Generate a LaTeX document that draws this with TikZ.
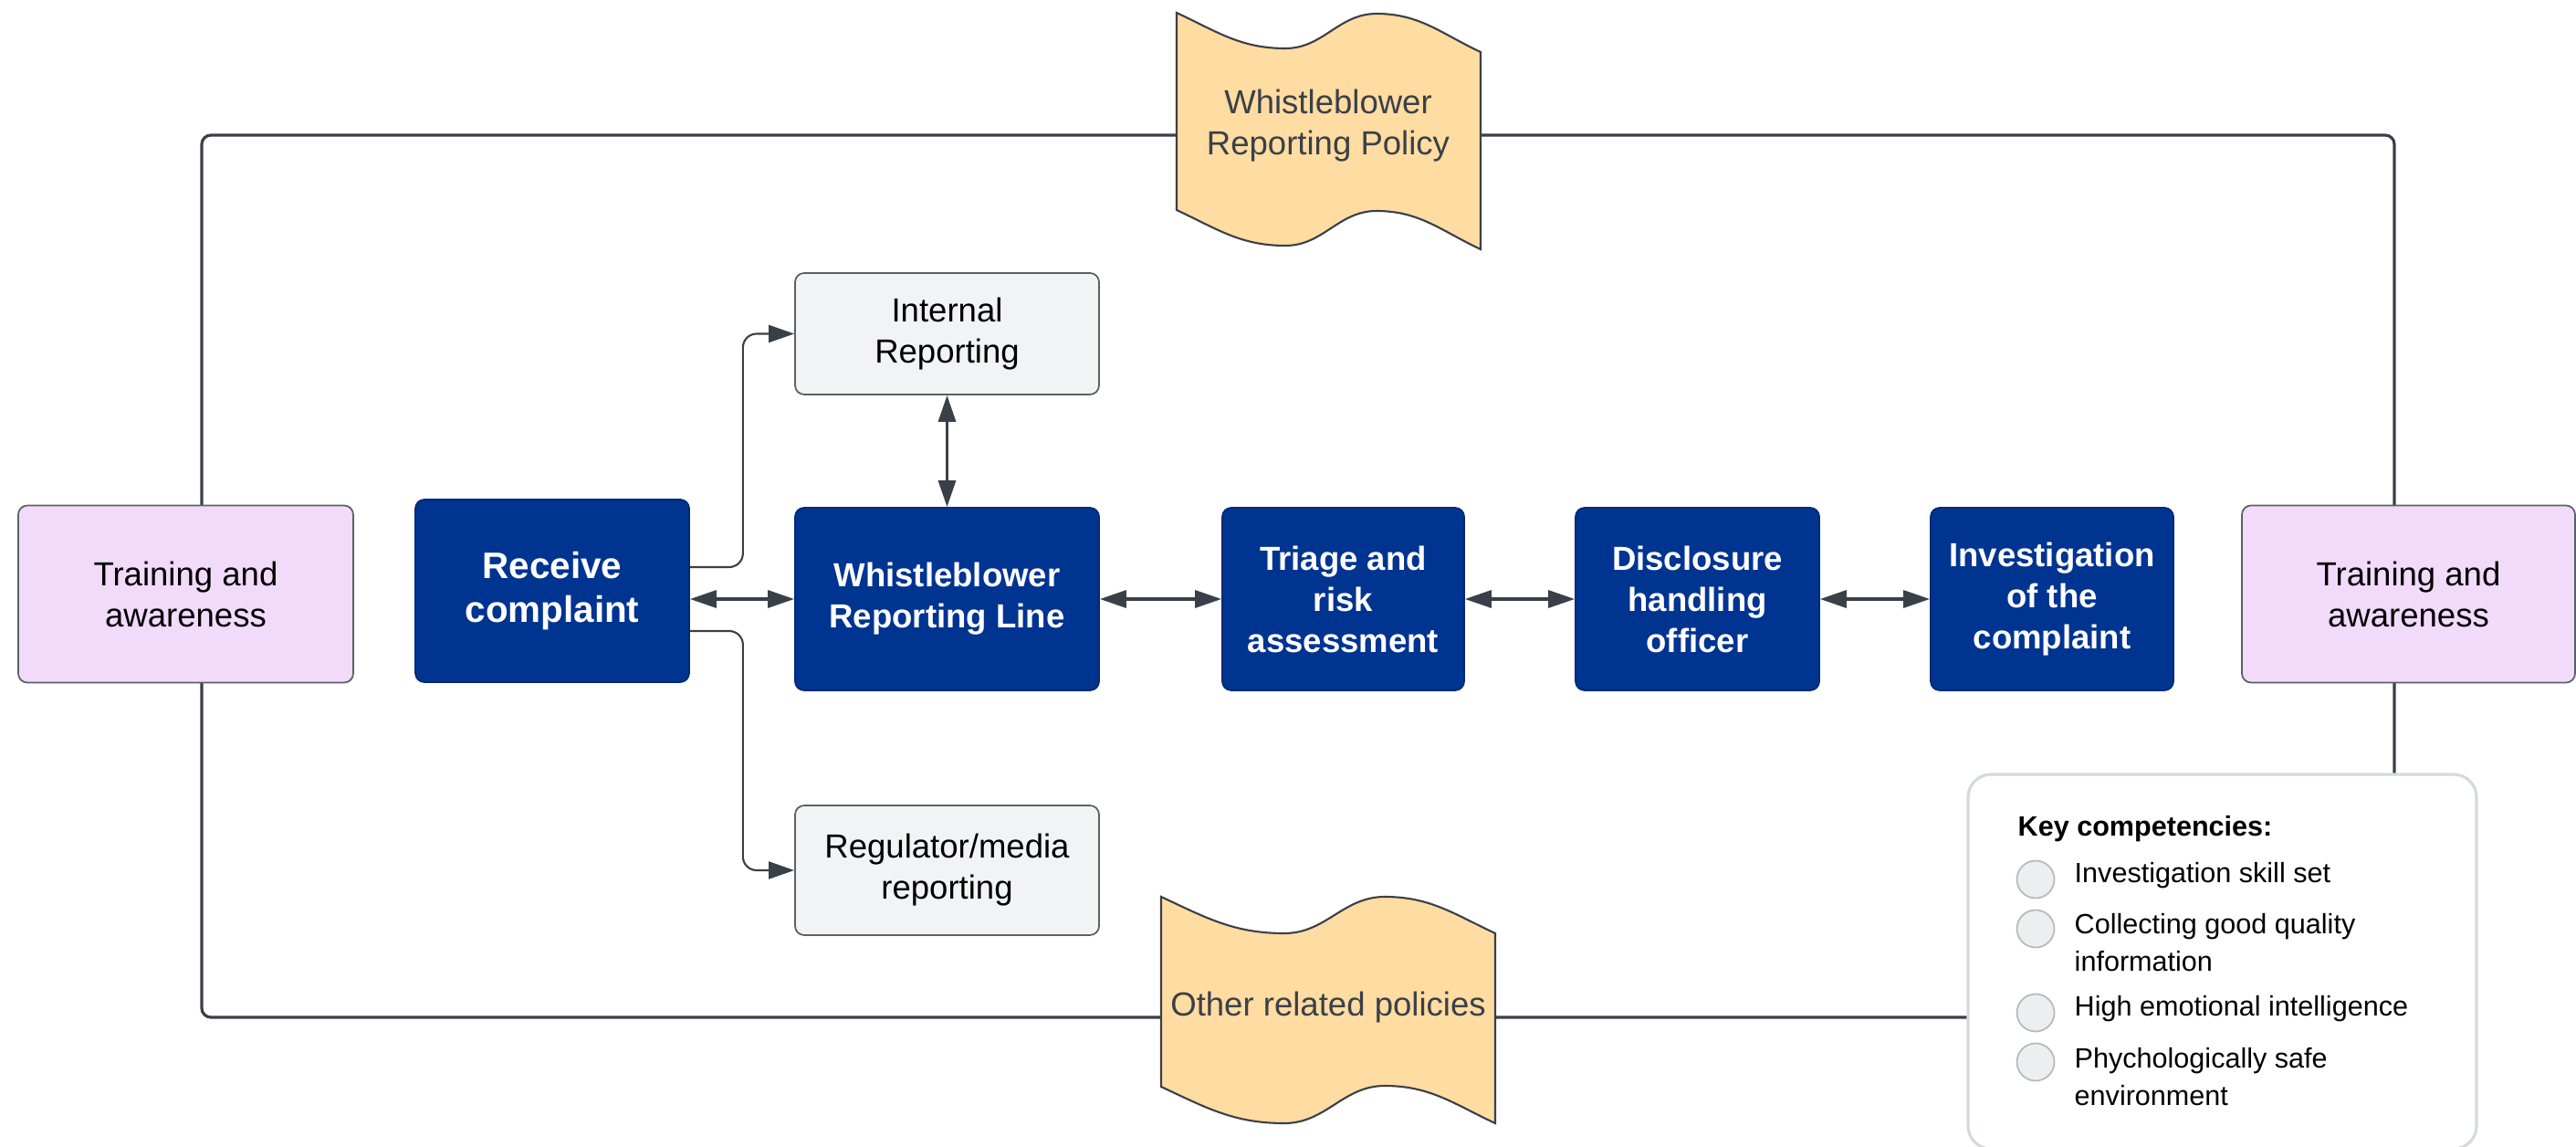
\documentclass[tikz,border=0pt]{standalone}
\usepackage{fontspec}
\setmainfont{Liberation Sans}
\usetikzlibrary{arrows.meta}

\definecolor{navy}{RGB}{0,52,145}
\definecolor{lilac}{RGB}{242,218,250}
\definecolor{paper}{RGB}{242,243,245}
\definecolor{sand}{RGB}{255,220,162}
\definecolor{ink}{RGB}{58,64,72}
\definecolor{rim}{RGB}{92,96,102}
\definecolor{pale}{RGB}{214,217,221}
\definecolor{dotfill}{RGB}{237,238,240}
\definecolor{dotrim}{RGB}{182,185,189}

\begin{document}
\begin{tikzpicture}[
    frame/.style={draw=ink,line width=0.9pt,rounded corners=1mm},
    banner/.style={fill=sand,draw=ink,line width=0.6pt},
    link/.style={draw=ink,line width=0.6pt,rounded corners=1.5mm,-{Triangle[length=2.8mm,width=1.9mm]}},
    both/.style={draw=ink,line width=0.9pt,{Triangle[length=2.9mm,width=1.9mm]}-{Triangle[length=2.9mm,width=1.9mm]}}]

  \useasboundingbox (0,0) rectangle (28.22,12.55);

  \draw[frame] (2.21,1.41) rectangle (26.23,11.07);

  \filldraw[banner] (12.89,12.41) to[out=-25,in=180] (14.08,12.02) to[out=0,in=180] (15.08,12.40)
    to[out=0,in=155] (16.22,11.98) -- (16.22,9.82) to[out=155,in=0] (15.08,10.24)
    to[out=180,in=0] (14.08,9.86) to[out=180,in=-25] (12.89,10.25) -- cycle;
  \filldraw[banner] (12.72,2.73) to[out=-25,in=180] (14.07,2.33) to[out=0,in=180] (15.17,2.73)
    to[out=0,in=155] (16.38,2.33) -- (16.38,0.25) to[out=155,in=0] (15.17,0.66)
    to[out=180,in=0] (14.07,0.25) to[out=180,in=-25] (12.72,0.65) -- cycle;

  \begin{scope}[every node/.style={align=center,text=ink,font=\fontsize{10.4}{12.8}\selectfont}]
    \node (policytop) at (14.55,11.17) {Whistleblower\\Reporting Policy};
    \node (policybot) at (14.55,1.52)  {Other related policies};
  \end{scope}

  \begin{scope}[every node/.style={rectangle,rounded corners=1mm,draw=rim,line width=0.5pt,
      inner sep=0pt,align=center,font=\fontsize{10.4}{12.8}\selectfont}]
    \node[fill=lilac,minimum width=3.67cm,minimum height=1.94cm] (trainL) at (2.035,6.045) {Training and\\awareness};
    \node[fill=lilac,minimum width=3.65cm,minimum height=1.94cm] (trainR) at (26.385,6.045) {Training and\\awareness};
    \node[fill=paper,minimum width=3.33cm,minimum height=1.33cm] (internal)  at (10.375,8.895) {Internal\\Reporting};
    \node[fill=paper,minimum width=3.33cm,minimum height=1.42cm] (regulator) at (10.375,3.02)  {Regulator/media\\reporting};
  \end{scope}

  \begin{scope}[every node/.style={rectangle,rounded corners=1mm,fill=navy,draw=navy!80!black,line width=0.5pt,
      inner sep=0pt,align=center,text=white,minimum height=2cm,font=\bfseries\fontsize{10.4}{12.8}\selectfont}]
    \node[minimum width=3cm,font=\bfseries\fontsize{11.5}{13.7}\selectfont] (receive) at (6.05,6.08) {Receive\\complaint};
    \node[minimum width=3.33cm] (wrl)           at (10.375,5.99) {Whistleblower\\Reporting Line};
    \node[minimum width=2.65cm] (triage)        at (14.715,5.99) {Triage and\\risk\\assessment};
    \node[minimum width=2.67cm] (disclosure)    at (18.595,5.99) {Disclosure\\handling\\officer};
    \node[minimum width=2.66cm] (investigation) at (22.48,5.99)  {Investigation\\of the\\complaint};
  \end{scope}

  \path[link] ([yshift=2.6mm]receive.east) -- ++(0.58,0) |- (internal.west);
  \path[link] ([yshift=-4.4mm]receive.east) -- ++(0.58,0) |- (regulator.west);
  \path[both] (receive.east |- wrl.west) -- (wrl.west);
  \path[both] (internal.south) -- (wrl.north);
  \path[both] (wrl.east) -- (triage.west);
  \path[both] (triage.east) -- (disclosure.west);
  \path[both] (disclosure.east) -- (investigation.west);

  \filldraw[fill=white,draw=pale,line width=0.9pt,rounded corners=2.5mm] (21.56,-0.03) rectangle (27.13,4.07);

  \begin{scope}[every node/.style={circle,fill=dotfill,draw=dotrim,line width=0.5pt,minimum size=0.41cm,inner sep=0pt}]
    \node (dot1) at (22.30,2.92) {};
    \node (dot2) at (22.30,2.38) {};
    \node (dot3) at (22.30,1.46) {};
    \node (dot4) at (22.30,0.92) {};
  \end{scope}

  \begin{scope}[every node/.style={anchor=west,align=left,inner sep=0pt,font=\fontsize{8.7}{11.7}\selectfont}]
    \node[font=\bfseries\fontsize{8.7}{11.7}\selectfont] (keytitle) at (22.10,3.47) {Key competencies:};
    \node (item1) at (22.72,2.96)  {Investigation skill set};
    \node (item2) at (22.72,2.225) {Collecting good quality\\information};
    \node (item3) at (22.72,1.50)  {High emotional intelligence};
    \node (item4) at (22.72,0.76)  {Phychologically safe\\environment};
  \end{scope}

\end{tikzpicture}
\end{document}
